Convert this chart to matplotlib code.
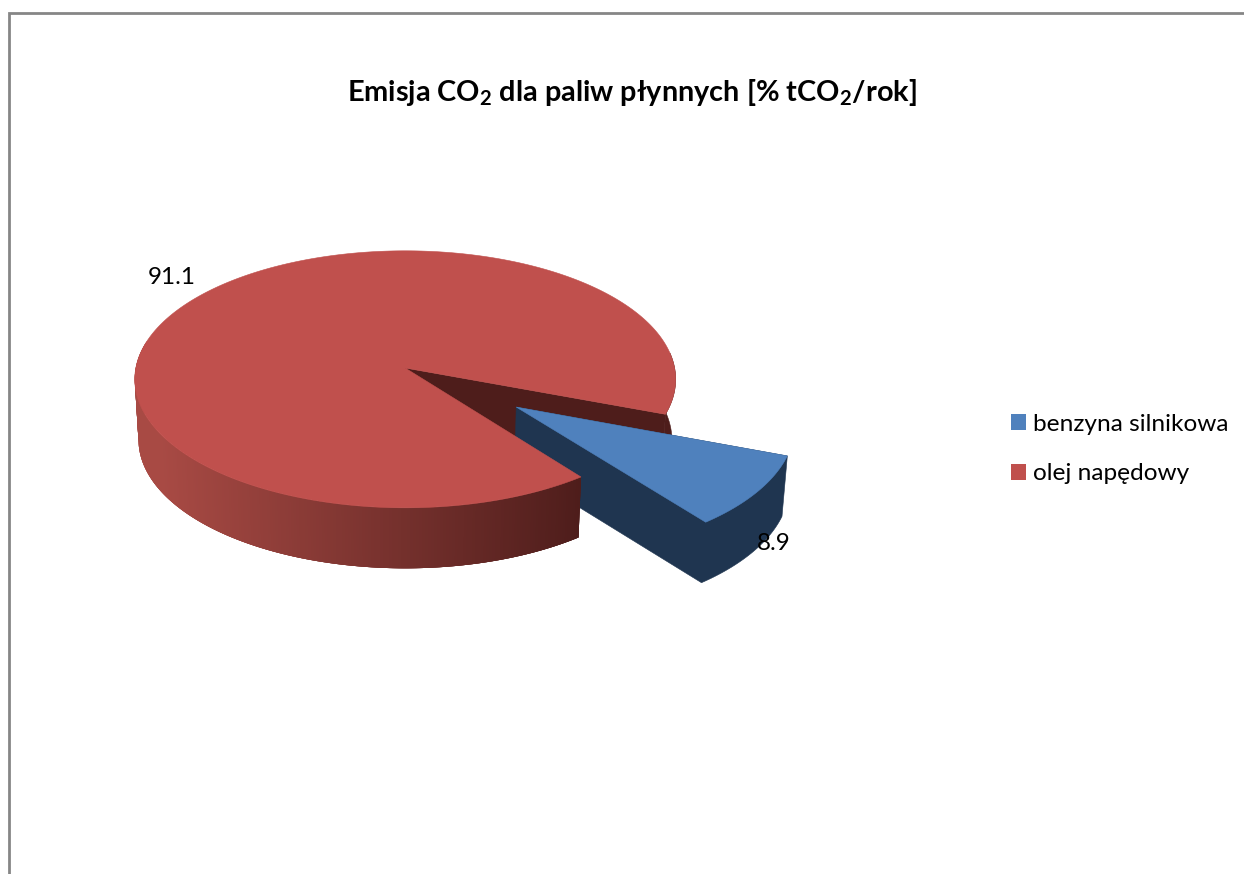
import numpy as np
import matplotlib
matplotlib.use("Agg")
import matplotlib.pyplot as plt
from matplotlib.patches import Polygon, Patch
from matplotlib.colors import to_rgb

plt.rcParams['font.family'] = ['Lato', 'DejaVu Sans']
plt.rcParams['mathtext.default'] = 'regular'

categories = ['benzyna silnikowa', 'olej napędowy']
values = [8.9, 91.1]
value_labels = ['8.9', '91.1']
title_text = r'Emisja CO$_{2}$ dla paliw płynnych [% tCO$_{2}$/rok]'

BLUE, RED = '#4F81BD', '#C0504D'
BLUE_DARK, RED_DARK = '#1F3550', '#4E1D1B'
RED_SIDE_LIGHT = '#A84A44'
FRAME = '#868686'

# projection of the pie's unit disc to pixels
CX, CY, RX, RY, K = 405.2, 368.0, 269.4, 127.5, 0.088
DEPTH, SHRINK = 60.5, 0.986
FIRST_SLICE = 110.6
EXPLODE = 0.5


def project(u, v, lower=False):
    w = 1 + K * v
    x = RX * u / w
    y = -RY * v / w
    if lower:
        return CX + x * SHRINK, CY + y + DEPTH
    return CX + x, CY + y


def rim(t, ox=0.0, oy=0.0, lower=False):
    x, y = project(ox + np.cos(t), oy + np.sin(t), lower)
    return np.column_stack([x, y])


def pt(ox, oy, lower=False):
    return np.array(project(ox, oy, lower))


def face(a, b):
    return np.vstack([a, b[::-1]])


fig = plt.figure(figsize=(12.44, 8.74), dpi=100, facecolor='white')
ax = fig.add_axes([0, 0, 1, 1])
ax.set_xlim(0, 1244)
ax.set_ylim(874, 0)
ax.axis('off')

# frame
ax.plot([9, 9, 1244], [874, 13, 13], color=FRAME, lw=2.0, solid_joinstyle='miter')

# slice angles, clockwise from the first-slice angle
fractions = np.array(values) / sum(values) * 2 * np.pi
a0 = np.radians(90 - FIRST_SLICE)
blue_start, blue_end = a0, a0 - fractions[0]
red_start, red_end = blue_end, blue_end - fractions[1]
mid = (blue_start + blue_end) / 2
ox, oy = EXPLODE * np.cos(mid), EXPLODE * np.sin(mid)

# red: rear cut face and the rim behind the wedge
c_top = rim(np.array([blue_start]))
c_low = rim(np.array([blue_start]), lower=True)
ax.add_patch(Polygon(np.vstack([pt(0, 0), c_top, c_low, pt(0, 0, True)]),
                     fc=RED_DARK, ec=RED_DARK, lw=0.4))
t_back = np.linspace(blue_start, 0.12, 30)
ax.add_patch(Polygon(face(rim(t_back), rim(t_back, lower=True)),
                     fc=RED_DARK, ec=RED_DARK, lw=0.4))

# blue wedge: one silhouette for the sides, then the top
t_blue = np.linspace(blue_start, blue_end, 50)
b_apex, b_apex_low = pt(ox, oy), pt(ox, oy, True)
side_outline = np.vstack([b_apex, b_apex_low,
                          rim(t_blue, ox, oy, True)[::-1],
                          rim(np.array([blue_start]), ox, oy)])
ax.add_patch(Polygon(side_outline, fc=BLUE_DARK, ec=BLUE_DARK, lw=0.4))
ax.add_patch(Polygon(np.vstack([b_apex, rim(t_blue, ox, oy)]), fc=BLUE, ec=BLUE, lw=0.4))

# red: front rim with a left-to-right gradient; strips overlap to avoid seams
t_front = np.linspace(np.pi * 0.93, 2 * np.pi + blue_end, 240)
up, lo = rim(t_front), rim(t_front, lower=True)
x_mid = up[:, 0]
f = np.clip((x_mid - x_mid[0]) / (x_mid[-1] - x_mid[0]), 0, 1)[:, None]
f = np.clip((f - 0.03) / 0.97, 0, 1)
cols = (1 - f) * np.array(to_rgb(RED_SIDE_LIGHT)) + f * np.array(to_rgb(RED_DARK))
for i in range(len(t_front) - 1):
    j = min(i + 4, len(t_front) - 1)
    ax.add_patch(Polygon(face(up[i:j + 1], lo[i:j + 1]), fc=cols[i], ec='none', lw=0))

# red top
t_red = np.linspace(red_start, red_end, 400)
ax.add_patch(Polygon(np.vstack([pt(0, 0), rim(t_red)]), fc=RED, ec=RED, lw=0.4))

# texts
ax.text(631.5, 92, title_text, ha='center', va='center', fontsize=20.8,
        fontweight='bold', color='black')
ax.text(172, 277, value_labels[1], ha='center', va='center', fontsize=17.5, color='black')
ax.text(774, 544, value_labels[0], ha='center', va='center', fontsize=17.5, color='black')

handles = [Patch(fc=BLUE, ec='none'), Patch(fc=RED, ec='none')]
ax.legend(handles, categories, loc='center left', bbox_to_anchor=(1011, 449),
          bbox_transform=ax.transData, frameon=False, fontsize=17.6,
          handlelength=0.61, handleheight=0.61, handletextpad=0.27,
          labelspacing=1.18, borderpad=0, borderaxespad=0)

fig.savefig('out.png', dpi=100, facecolor='white')
